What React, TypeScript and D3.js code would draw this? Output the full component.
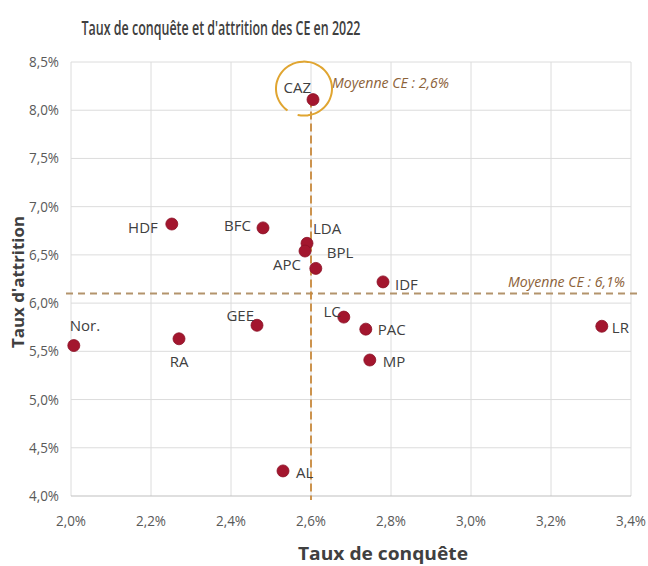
import React from "react";
import * as d3 from "d3";

const names = ["CAZ", "HDF", "BFC", "LDA", "APC", "BPL", "IDF", "Nor.", "RA", "GEE", "AL", "LC", "PAC", "MP", "LR"];
const conquete = [2.605, 2.252, 2.48, 2.59, 2.585, 2.612, 2.78, 2.007, 2.27, 2.465, 2.53, 2.682, 2.737, 2.747, 3.327];
const attrition = [8.11, 6.82, 6.78, 6.62, 6.54, 6.36, 6.22, 5.56, 5.63, 5.77, 4.26, 5.855, 5.73, 5.41, 5.76];
const xTicks = [2.0, 2.2, 2.4, 2.6, 2.8, 3.0, 3.2, 3.4];
const yTicks = [4.0, 4.5, 5.0, 5.5, 6.0, 6.5, 7.0, 7.5, 8.0, 8.5];
const avgConquete = 2.6;
const avgAttrition = 6.1;

// label placement (layout only): dx, dy, anchor
const labelPos: Record<string, [number, number, string]> = {
  CAZ: [-2, -7, "end"],
  HDF: [-14, 9, "end"],
  BFC: [-12, 3, "end"],
  LDA: [6, -9, "start"],
  APC: [-4, 19, "end"],
  BPL: [11, -10, "start"],
  IDF: [12, 8, "start"],
  "Nor.": [-4, -15, "start"],
  RA: [0, 28, "middle"],
  GEE: [-3, -4, "end"],
  AL: [13, 7, "start"],
  LC: [-3, 0, "end"],
  PAC: [12, 6, "start"],
  MP: [13, 7, "start"],
  LR: [10, 7, "start"],
};

const FONT = "'Open Sans', 'Noto Sans', sans-serif";

export default function App() {
  const W = 648, H = 566;
  const x = d3.scaleLinear().domain([2.0, 3.4]).range([71, 631]);
  const y = d3.scaleLinear().domain([4.0, 8.5]).range([496, 62]);
  const fmt = (v: number) => v.toFixed(1).replace(".", ",") + "%";
  const ax = x(avgConquete);
  const ay = y(avgAttrition);
  const cazIdx = names.indexOf("CAZ");
  const cx = x(conquete[cazIdx]);
  const cy = y(attrition[cazIdx]);
  // hand-drawn ellipse around CAZ (open arc)
  const ellipsePts: [number, number][] = d3.range(0, 1.0001, 0.02).map((t) => {
    const a = 2.2 + t * (Math.PI * 2 - 0.4);
    return [cx - 9 + 28 * Math.cos(a), cy - 11 + 27 * Math.sin(a)];
  });
  const ellipsePath = d3.line().curve(d3.curveCatmullRom)(ellipsePts) || "";

  return (
    <svg width={W} height={H} style={{ position: "absolute", left: 0, top: 0, background: "#fff" }} fontFamily={FONT}>
      <rect width={W} height={H} fill="#fff" />
      <text x={221} y={35} textAnchor="middle" fontSize={19} fill="#404040" fontWeight={600} textLength={279} lengthAdjust="spacingAndGlyphs">
        Taux de conquête et d'attrition des CE en 2022
      </text>
      {/* grid */}
      {xTicks.map((t) => (
        <line key={"gx" + t} x1={x(t)} x2={x(t)} y1={y(8.5)} y2={y(4.0)} stroke="#dcdcdc" strokeWidth={1} />
      ))}
      {yTicks.map((t) => (
        <line key={"gy" + t} x1={x(2.0)} x2={x(3.4)} y1={y(t)} y2={y(t)} stroke={t === 4.0 ? "#bfbfbf" : "#dcdcdc"} strokeWidth={1} />
      ))}
      {/* tick labels */}
      {yTicks.map((t) => (
        <text key={"ty" + t} x={59} y={y(t) + 5} textAnchor="end" fontSize={15} fill="#595959" textLength={30} lengthAdjust="spacingAndGlyphs">
          {fmt(t)}
        </text>
      ))}
      {xTicks.map((t) => (
        <text key={"tx" + t} x={x(t)} y={526} textAnchor="middle" fontSize={15} fill="#595959" textLength={30} lengthAdjust="spacingAndGlyphs">
          {fmt(t)}
        </text>
      ))}
      <text x={383} y={560} textAnchor="middle" fontSize={17} fontWeight="bold" fill="#404040" textLength={170} lengthAdjust="spacingAndGlyphs">
        Taux de conquête
      </text>
      <text transform={`translate(24,282) rotate(-90)`} textAnchor="middle" fontSize={16} fontWeight="bold" fill="#404040" textLength={132} lengthAdjust="spacingAndGlyphs">
        Taux d'attrition
      </text>
      {/* average lines */}
      <line x1={66} x2={637} y1={ay} y2={ay} stroke="#b3946c" strokeWidth={2} strokeDasharray="7,5" />
      <line x1={ax} x2={ax} y1={cy} y2={500} stroke="#c8893c" strokeWidth={1.8} strokeDasharray="8,4" />
      <text x={332} y={88} fontSize={15} fontStyle="italic" fill="#8c6239" textLength={117} lengthAdjust="spacingAndGlyphs">
        Moyenne CE : 2,6%
      </text>
      <text x={625} y={287} textAnchor="end" fontSize={15} fontStyle="italic" fill="#8c6239" textLength={117} lengthAdjust="spacingAndGlyphs">
        Moyenne CE : 6,1%
      </text>
      {/* ellipse highlight */}
      <path d={ellipsePath} fill="none" stroke="#e0a531" strokeWidth={2} />
      {/* points */}
      {names.map((n, i) => (
        <circle key={"p" + n} cx={x(conquete[i])} cy={y(attrition[i])} r={6} fill="#a3162e" stroke="#8a1026" strokeWidth={0.8} />
      ))}
      {names.map((n, i) => {
        const [dx, dy, anchor] = labelPos[n];
        return (
          <text key={"l" + n} x={x(conquete[i]) + dx} y={y(attrition[i]) + dy} textAnchor={anchor as any} fontSize={15} fill="#404040">
            {n}
          </text>
        );
      })}
    </svg>
  );
}
